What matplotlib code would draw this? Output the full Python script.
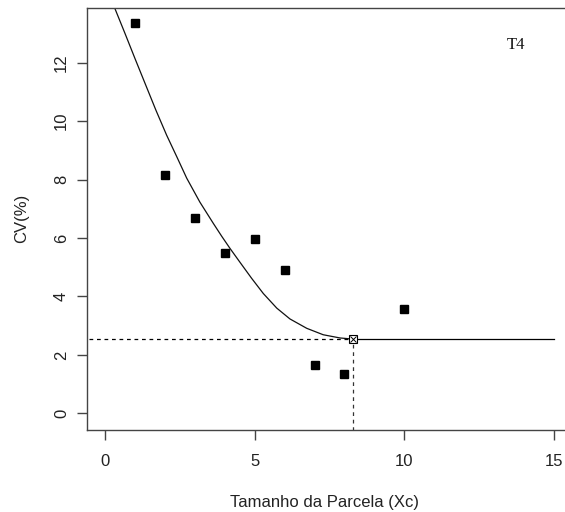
import matplotlib
matplotlib.use('Agg')
import matplotlib.pyplot as plt

# observed CV by plot size
tamanho = [1, 2, 3, 4, 5, 6, 7, 8, 10]
cv = [13.35, 8.16, 6.67, 5.48, 5.95, 4.90, 1.65, 1.33, 3.56]

curva_x = [0.20, 0.33, 0.67, 1.00, 1.34, 1.70, 2.06, 2.40, 2.73, 3.17, 3.62, 3.90,
           4.18, 4.51, 4.90, 5.29, 5.74, 6.18, 6.74, 7.29, 7.85, 8.30]
curva_y = [14.20, 13.86, 13.00, 12.15, 11.29, 10.38, 9.52, 8.78, 8.05, 7.23, 6.50, 6.06,
           5.64, 5.17, 4.62, 4.10, 3.60, 3.23, 2.91, 2.69, 2.58, 2.54]

xc = 8.30        # tamanho otimo da parcela
plato = 2.54     # CV no plato
x_fim = 15

xticks = [0, 5, 10, 15]
yticks = [0, 2, 4, 6, 8, 10, 12]

plt.rcParams['font.family'] = ['Liberation Sans', 'DejaVu Sans']

fig = plt.figure(figsize=(5.65, 5.12), dpi=100)
ax = fig.add_axes([87 / 565, 1 - 430 / 512, 485 / 565, 422.5 / 512])

ax.plot(tamanho, cv, linestyle='none', marker='s', markersize=5.8, color='black')
ax.plot(curva_x, curva_y, color='#111111', linewidth=0.9, solid_joinstyle='round')
ax.plot([xc, x_fim], [plato, plato], color='black', linewidth=0.9)
ax.plot([-5, xc], [plato, plato], color='black', linewidth=0.9, linestyle=(0, (3, 3)))
ax.plot([xc, xc], [-5, plato], color='#333333', linewidth=0.9, linestyle=(0, (3, 3)))
ax.plot([xc], [plato], marker='s', markersize=5.5, markerfacecolor='white',
        markeredgecolor='black', markeredgewidth=0.8, linestyle='none')
ax.plot([xc], [plato], marker='x', markersize=4.5, color='black',
        markeredgewidth=0.7, linestyle='none')

ax.set_xlim(-0.6, 15.6)
ax.set_ylim(-0.57, 13.89)
ax.set_xticks(xticks)
ax.set_yticks(yticks)
ax.set_xticklabels([str(t) for t in xticks])
ax.set_yticklabels([str(t) for t in yticks], rotation=90, va='center')

for s in ax.spines.values():
    s.set_color('#444444')
    s.set_linewidth(1.0)
ax.spines['right'].set_visible(False)
ax.tick_params(axis='both', length=7, width=1.0, color='#444444',
               labelsize=12, labelcolor='#222222')
ax.tick_params(axis='x', pad=10)
ax.tick_params(axis='y', pad=6)

ax.text(13.72, 12.6, 'T4', fontsize=12, family='Liberation Serif',
        ha='center', va='center', color='#111111')

fig.text(325 / 565, 1 - 502 / 512, 'Tamanho da Parcela (Xc)', fontsize=12,
         ha='center', va='center', color='#222222')
fig.text(22 / 565, 1 - 218 / 512, 'CV(%)', fontsize=12, rotation=90,
         ha='center', va='center', color='#222222')

fig.savefig('out.png', dpi=100)
